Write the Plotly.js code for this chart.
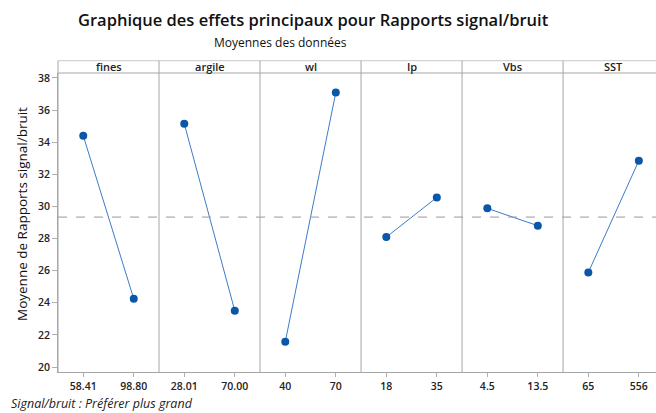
<!DOCTYPE html>
<html>
<head>
<meta charset="utf-8">
<script src="https://cdn.plot.ly/plotly-3.0.1.min.js"></script>
<style>html,body{margin:0;padding:0;background:#fff;}#chart{width:656px;height:413px;}</style>
</head>
<body>
<div id="chart"></div>
<script>
// Data
const factors = ["fines", "argile", "wl", "Ip", "Vbs", "SST"];
const levels = [["58.41", "98.80"], ["28.01", "70.00"], ["40", "70"], ["18", "35"], ["4.5", "13.5"], ["65", "556"]];
const means = [[34.40, 24.25], [35.15, 23.51], [21.57, 37.09], [28.09, 30.56], [29.88, 28.80], [25.89, 32.85]];
const yTicks = [20, 22, 24, 26, 28, 30, 32, 34, 36, 38];

const grandMean = means.flat().reduce((a, b) => a + b, 0) / means.flat().length;

const traces = [];
const tickvals = [], ticktext = [];
factors.forEach((f, i) => {
  const xs = levels[i].map((_, j) => i * 2 + j);
  xs.forEach((x, j) => { tickvals.push(x); ticktext.push(levels[i][j]); });
  traces.push({
    x: xs, y: means[i], type: "scatter", mode: "lines+markers",
    line: {color: "#3d7cc9", width: 1},
    marker: {color: "#0a56a8", size: 8},
    showlegend: false, hoverinfo: "skip", cliponaxis: false
  });
});

const xMax = 11.34;
const stripH = 12.3 / 299;
const grey = "#a6a6a6";
const px = v => (v - 58) / 598;      // paper x from pixel
const py = v => (372 - v) / 299;     // paper y from pixel
const shapes = [];
shapes.push({type: "line", xref: "paper", yref: "paper", x0: 0, x1: 1, y0: 1 + stripH, y1: 1 + stripH, line: {color: "#c8c8c8", width: 1}});
shapes.push({type: "line", xref: "paper", yref: "paper", x0: 0, x1: 1, y0: 1, y1: 1, line: {color: grey, width: 1}});
shapes.push({type: "line", xref: "paper", yref: "paper", x0: 0, x1: 0, y0: 0, y1: 1 + stripH, line: {color: grey, width: 1}});
factors.forEach((f, i) => {
  if (i > 0) {
    shapes.push({type: "line", xref: "x", yref: "paper", x0: i * 2 - 0.5, x1: i * 2 - 0.5, y0: 0, y1: 1 + stripH, line: {color: grey, width: 1}});
  }
});
shapes.push({type: "line", xref: "paper", yref: "y", x0: 0, x1: 1, y0: grandMean, y1: grandMean, line: {color: "#9a9a9a", width: 1, dash: "dash"}});

const annotations = factors.map((f, i) => ({
  x: i * 2 + 0.5, xref: "x", y: 1 + stripH / 2, yref: "paper", text: f, showarrow: false,
  font: {family: "Open Sans, sans-serif", size: 11, color: "#222", weight: 600}, yanchor: "middle"
}));
annotations.push({
  text: "Graphique des effets principaux pour Rapports signal/bruit", xref: "paper", yref: "paper",
  x: px(76), y: py(20), showarrow: false, xanchor: "left", yanchor: "middle",
  font: {family: "Open Sans, sans-serif", size: 16.5, color: "#111", weight: 600}
});
annotations.push({
  text: "Moyennes des données", xref: "paper", yref: "paper",
  x: px(212), y: py(42), showarrow: false, xanchor: "left", yanchor: "middle",
  font: {family: "Open Sans, sans-serif", size: 12, color: "#111", weight: 500}
});
annotations.push({
  text: "Moyenne de Rapports signal/bruit", xref: "paper", yref: "paper",
  x: px(22), y: py(214), showarrow: false, xanchor: "center", yanchor: "middle", textangle: -90,
  font: {family: "Open Sans, sans-serif", size: 13.5, color: "#111", weight: 500}
});
annotations.push({
  text: "Signal/bruit : Préférer plus grand", xref: "paper", yref: "paper",
  x: px(9), y: py(403), showarrow: false, xanchor: "left", yanchor: "middle",
  font: {family: "Open Sans, sans-serif", size: 12.5, color: "#222", style: "italic"}
});

const layout = {
  width: 656, height: 413,
  margin: {l: 58, r: 0, t: 73, b: 41},
  paper_bgcolor: "#fff", plot_bgcolor: "#fff",
  showlegend: false,
  xaxis: {
    range: [-0.5, xMax], tickvals: tickvals, ticktext: ticktext,
    showgrid: false, zeroline: false, showline: true, linecolor: grey, linewidth: 1,
    ticks: "outside", ticklen: 4, tickcolor: "#b0b0b0",
    tickfont: {family: "Open Sans, sans-serif", size: 10.5, color: "#222", weight: 600}
  },
  yaxis: {
    range: [19.69, 38.31], tickvals: yTicks,
    showgrid: false, zeroline: false, showline: true, linecolor: grey, linewidth: 1,
    ticks: "outside", ticklen: 5, tickcolor: "#b0b0b0",
    tickfont: {family: "Open Sans, sans-serif", size: 10.5, color: "#222", weight: 600}
  },
  shapes: shapes,
  annotations: annotations
};

Plotly.newPlot("chart", traces, layout, {staticPlot: true, displayModeBar: false});
</script>
</body>
</html>
